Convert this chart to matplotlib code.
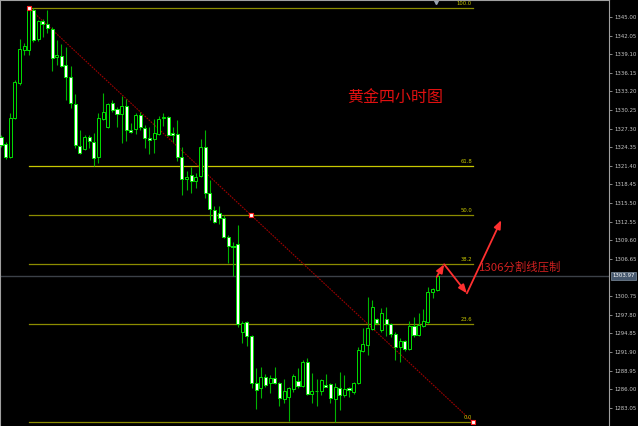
import matplotlib.pyplot as plt
import numpy as np

plt.rcParams['font.family'] = ['Noto Sans CJK SC', 'DejaVu Sans']

# 4-hour gold candles (open, high, low, close)
opens = [1325.98, 1324.87, 1322.81, 1328.99, 1334.53, 1339.77, 1339.77, 1346.11, 1341.51, 1344.36,
         1343.89, 1343.09, 1338.66, 1338.81, 1337.39, 1335.49, 1331.21, 1324.55, 1324.07, 1325.98,
         1325.18, 1322.81, 1328.83, 1327.56, 1331.37, 1330.41, 1329.62, 1330.89, 1327.09, 1327.24,
         1329.46, 1327.40, 1325.82, 1325.66, 1326.45, 1328.99, 1329.15, 1326.61, 1326.45, 1322.81,
         1319.32, 1319.95, 1319.00, 1319.79, 1324.39, 1317.10, 1314.41, 1313.93, 1313.14, 1310.13,
         1308.70, 1309.02, 1295.07, 1296.65, 1294.43, 1286.98, 1286.19, 1287.94, 1286.98, 1287.78,
         1286.98, 1284.45, 1284.77, 1286.03, 1287.30, 1286.51, 1290.31, 1285.24, 1285.72, 1285.72,
         1286.67, 1286.83, 1284.45, 1286.19, 1285.08, 1286.19, 1285.56, 1286.98, 1292.06, 1293.01,
         1295.54, 1297.13, 1295.39, 1297.13, 1296.34, 1294.75, 1292.69, 1293.64, 1292.38, 1296.02,
         1294.59, 1296.02, 1296.65, 1301.41, 1301.72]
highs = [1326.29, 1325.18, 1329.78, 1335.01, 1341.51, 1340.87, 1346.42, 1346.42, 1344.52, 1344.68,
         1346.11, 1343.41, 1341.35, 1340.72, 1340.24, 1337.23, 1332.79, 1327.09, 1326.29, 1326.29,
         1326.61, 1329.78, 1332.95, 1331.37, 1331.84, 1330.73, 1332.47, 1332.00, 1328.19, 1329.78,
         1329.94, 1327.88, 1327.56, 1328.83, 1329.30, 1329.78, 1329.30, 1327.56, 1328.67, 1324.39,
         1320.59, 1321.22, 1320.27, 1325.66, 1327.09, 1319.16, 1315.04, 1315.04, 1313.62, 1310.44,
         1309.33, 1312.03, 1296.81, 1296.81, 1294.59, 1289.36, 1289.52, 1288.41, 1288.25, 1289.52,
         1287.10, 1287.62, 1286.35, 1288.41, 1289.36, 1290.63, 1290.95, 1288.57, 1287.62, 1287.62,
         1288.41, 1287.00, 1286.98, 1288.73, 1288.25, 1286.35, 1287.14, 1292.69, 1295.70, 1300.62,
         1300.14, 1297.29, 1298.87, 1299.03, 1296.50, 1295.07, 1294.12, 1293.80, 1296.81, 1297.45,
         1298.08, 1298.71, 1302.20, 1302.04, 1304.42]
lows = [1324.39, 1322.49, 1322.65, 1328.83, 1334.22, 1338.97, 1338.97, 1341.03, 1341.19, 1341.83,
        1342.46, 1336.44, 1337.39, 1337.07, 1331.84, 1330.57, 1324.23, 1323.28, 1323.92, 1324.23,
        1321.38, 1321.86, 1328.67, 1327.40, 1329.94, 1327.56, 1325.02, 1325.34, 1326.61, 1326.45,
        1327.09, 1324.23, 1323.28, 1323.44, 1326.29, 1327.72, 1326.13, 1325.18, 1322.17, 1316.78,
        1317.58, 1317.10, 1317.89, 1319.64, 1316.31, 1312.82, 1312.34, 1312.19, 1310.00, 1306.01,
        1303.94, 1295.86, 1293.33, 1292.85, 1286.19, 1282.86, 1284.61, 1286.35, 1285.40, 1286.83,
        1283.34, 1283.82, 1280.96, 1285.56, 1286.19, 1286.35, 1285.08, 1283.82, 1283.34, 1285.08,
        1286.35, 1283.82, 1280.80, 1282.71, 1284.77, 1284.77, 1285.24, 1286.83, 1291.90, 1291.42,
        1295.39, 1296.34, 1295.07, 1294.43, 1294.28, 1290.63, 1290.31, 1292.06, 1292.22, 1294.28,
        1294.43, 1295.86, 1296.50, 1300.46, 1301.57]
closes = [1324.71, 1322.81, 1328.99, 1334.69, 1339.92, 1340.40, 1346.26, 1341.35, 1344.36, 1343.89,
          1343.25, 1338.50, 1338.97, 1337.23, 1335.49, 1331.37, 1324.71, 1323.44, 1325.98, 1325.34,
          1322.65, 1328.99, 1329.94, 1331.21, 1330.26, 1329.62, 1330.89, 1327.09, 1326.77, 1329.46,
          1327.56, 1325.82, 1325.50, 1326.61, 1328.83, 1329.15, 1326.29, 1326.29, 1322.81, 1319.32,
          1319.64, 1319.00, 1319.64, 1324.39, 1317.10, 1314.56, 1312.50, 1313.14, 1310.13, 1308.70,
          1308.54, 1296.34, 1296.50, 1294.43, 1286.98, 1285.88, 1287.94, 1286.67, 1287.78, 1286.98,
          1284.61, 1285.72, 1286.19, 1288.09, 1286.51, 1290.31, 1285.24, 1285.72, 1285.65, 1287.46,
          1286.40, 1284.61, 1286.35, 1285.08, 1286.03, 1285.88, 1286.98, 1292.22, 1293.17, 1295.70,
          1299.03, 1296.50, 1298.08, 1296.34, 1294.75, 1292.69, 1293.64, 1292.38, 1296.02, 1294.59,
          1296.18, 1296.81, 1301.41, 1301.88, 1303.97]

current_price = 1303.97

# Fibonacci retracement drawn from the swing high to the projected low
fib_x = [6.0, 101.7]
fib_high = 1346.43
fib_low = 1280.80
fib_levels = [100.0, 61.8, 50.0, 38.2, 23.6, 0.0]

# price scale on the right (1303.70 sits under the current-price tag)
price_ticks = [1345.00, 1342.05, 1339.10, 1336.15, 1333.20, 1330.25, 1327.30, 1324.35, 1321.40,
               1318.45, 1315.50, 1312.55, 1309.60, 1306.65, 1300.75, 1297.80, 1294.85,
               1291.90, 1288.95, 1286.00, 1283.05]

# hand-drawn forecast arrows (bar index, price)
arrow_path = [(93.9, 1303.8), (95.5, 1305.8), (100.4, 1301.2), (107.8, 1312.8)]

title_text = '黄金四小时图'
note_text = '1306分割线压制'

fig = plt.figure(figsize=(6.38, 4.26), dpi=100, facecolor='black')
ax = fig.add_axes([0, 0, 609 / 638, 1])
ax.set_facecolor('black')

idx = np.arange(len(opens))
o = np.array(opens)
c = np.array(closes)
bull = c >= o

# wicks then bodies
ax.vlines(idx, lows, highs, color='#00b400', lw=0.8, zorder=2)
bottoms = np.minimum(o, c)
heights = np.maximum(np.abs(c - o), 0.12)
ax.bar(idx, heights, bottom=bottoms, width=0.66,
       color=np.where(bull, 'black', 'white'), edgecolor='#00e000', lw=0.7, zorder=3)

# fibonacci levels
for lvl in fib_levels:
    price = fib_low + (fib_high - fib_low) * lvl / 100.0
    col = '#c8c800' if lvl == 61.8 else '#8c8c00'
    ax.plot(fib_x, [price, price], color=col, lw=0.9, zorder=1)
    ax.text(fib_x[1] - 0.2, price + 0.35, '%.1f' % lvl, color='#c8c800', fontsize=3.8,
            ha='right', va='bottom', family='DejaVu Sans')

# fib diagonal (dotted red) with anchor squares
ax.plot(fib_x, [fib_high, fib_low], color='#a00000', lw=0.8, ls=(0, (1.5, 1)), zorder=1)
mid_x = sum(fib_x) / 2
mid_y = (fib_high + fib_low) / 2
ax.plot([fib_x[0], mid_x, fib_x[1]], [fib_high, mid_y, fib_low], ls='none', marker='s',
        ms=2.6, mfc='white', mec='#ff2020', mew=0.8, zorder=4)

# current price line and tag
ax.axhline(current_price, color='#3c4148', lw=1.0, zorder=0)
ax.text(1.005, current_price, '%.2f' % current_price, transform=ax.get_yaxis_transform(),
        fontsize=3.9, color='white', va='center', ha='left', family='DejaVu Sans',
        bbox=dict(boxstyle='square,pad=0.25', fc='#46586e', ec='#8090a0', lw=0.5), clip_on=False)

# shift marker at the top
ax.plot([93.8], [0.995], marker='v', ms=3, color='#9aa4b0', transform=ax.get_xaxis_transform(),
        clip_on=False)

# forecast arrows
for (x0, y0), (x1, y1) in zip(arrow_path[:-1], arrow_path[1:]):
    ax.annotate('', xy=(x1, y1), xytext=(x0, y0),
                arrowprops=dict(arrowstyle='-|>,head_length=0.5,head_width=0.2',
                                color='#ff3030', lw=1.3, shrinkA=0, shrinkB=0))

ax.text(84.9, 1332.3, title_text, color='#e01010', fontsize=11.5, ha='center', va='center')
ax.text(103.0, 1305.3, note_text, color='#d02020', fontsize=8.2, ha='left', va='center')

ax.set_xlim(-0.2155, 131.03)
ax.set_ylim(1280.17, 1347.69)
ax.set_xticks([])
ax.yaxis.tick_right()
ax.set_yticks(price_ticks)
ax.set_yticklabels(['%.2f' % t for t in price_ticks])
ax.tick_params(axis='y', direction='out', length=2.5, width=0.6, color='#a0a0a0',
               labelsize=3.9, labelcolor='#c8c8c8', pad=1.2)
for t in ax.get_yticklabels():
    t.set_family('DejaVu Sans')
for side in ['left', 'top', 'right']:
    ax.spines[side].set_color('#a0a0a0')
    ax.spines[side].set_linewidth(0.8)
ax.spines['bottom'].set_visible(False)

fig.savefig('out.png', dpi=100, facecolor='black')
